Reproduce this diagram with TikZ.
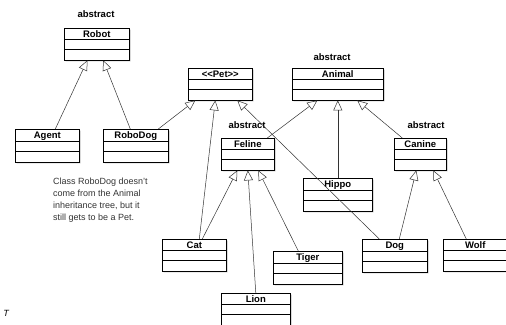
\documentclass[tikz,border=0pt]{standalone}
\usepackage{fontspec}
\setmainfont{Liberation Sans}
\usetikzlibrary{shapes.multipart,shadows,arrows.meta}

\begin{document}
\begin{tikzpicture}[x=1pt,y=-1pt,
  umlclass/.style={rectangle split, rectangle split parts=3, draw, line width=0.6pt,
    fill=white, anchor=north west, inner xsep=2pt, inner ysep=0pt,
    rectangle split empty part height=10pt, rectangle split empty part depth=0pt,
    font=\fontsize{9.5}{10}\selectfont\bfseries,
    execute at begin node={\rule[-1pt]{0pt}{10pt}},
    drop shadow={shadow xshift=1.2pt, shadow yshift=-1.2pt, opacity=0.45}},
  stereo/.style={font=\fontsize{9.5}{10}\selectfont\bfseries},
  inherit/.style={draw=black!80, line width=0.5pt,
    -{Triangle[open, length=10pt, width=9pt]}}]
  % page frame
  \useasboundingbox (0,0) rectangle (506,324);

  % the classes
  \node[umlclass, minimum width=65pt] (robot) at (64,28) {Robot};
  \node[umlclass, minimum width=64pt] (agent) at (15,129) {Agent};
  \node[umlclass, minimum width=65pt] (robodog) at (103,129) {RoboDog};
  \node[umlclass, minimum width=64pt] (pet) at (188,68) {<{}<Pet>{}>};
  \node[umlclass, minimum width=91pt] (animal) at (292,68) {Animal};
  \node[umlclass, minimum width=53pt] (feline) at (221,138) {Feline};
  \node[umlclass, minimum width=52pt] (canine) at (394,138) {Canine};
  \node[umlclass, minimum width=69pt] (hippo) at (303,178) {Hippo};
  \node[umlclass, minimum width=64pt] (cat) at (162,239) {Cat};
  \node[umlclass, minimum width=69pt] (tiger) at (273,251) {Tiger};
  \node[umlclass, minimum width=69pt] (lion) at (221,293) {Lion};
  \node[umlclass, minimum width=65pt] (dog) at (362,239) {Dog};
  \node[umlclass, minimum width=64pt] (wolf) at (443,239) {Wolf};

  % abstract labels
  \node[stereo] (robotabs) at (96,14) {abstract};
  \node[stereo] (animalabs) at (332,57) {abstract};
  \node[stereo] (felineabs) at (247,125) {abstract};
  \node[stereo] (canineabs) at (426,125) {abstract};

  % note
  \node[anchor=north west, align=left, inner sep=0pt, text=black!80,
    font=\fontsize{9}{12}\selectfont] (note) at (53,178)
    {Class RoboDog doesn't\\come from the Animal\\inheritance tree, but it\\still gets to be a Pet.};
  \node[font=\itshape\fontsize{9}{10}\selectfont] (mark) at (6,313) {T};

  % inheritance arrows
  \draw[inherit] ([xshift=8pt]agent.north) -- ([xshift=-9.5pt]robot.south);
  \draw[inherit] ([xshift=-5.5pt]robodog.north) -- ([xshift=6.5pt]robot.south);
  \draw[inherit] ([xshift=22.5pt]robodog.north) -- ([xshift=-25pt]pet.south);
  \draw[inherit] ([xshift=5pt]cat.north) -- ([xshift=-5pt]pet.south);
  \draw[inherit] ([xshift=-15.5pt]dog.north) -- ([xshift=17pt]pet.south);
  \draw[inherit] ([xshift=19.5pt]feline.north) -- ([xshift=-20.5pt]animal.south);
  \draw[inherit] (hippo.north) -- (animal.south);
  \draw[inherit] ([xshift=-18pt]canine.north) -- ([xshift=19.5pt]animal.south);
  \draw[inherit] ([xshift=8pt]cat.north) -- ([xshift=-10.5pt]feline.south);
  \draw[inherit] (lion.north) -- (feline.south);
  \draw[inherit] ([xshift=-9.5pt]tiger.north) -- ([xshift=10.5pt]feline.south);
  \draw[inherit] ([xshift=4.5pt]dog.north) -- ([xshift=-4pt]canine.south);
  \draw[inherit] ([xshift=-9pt]wolf.north) -- ([xshift=13pt]canine.south);
\end{tikzpicture}
\end{document}
